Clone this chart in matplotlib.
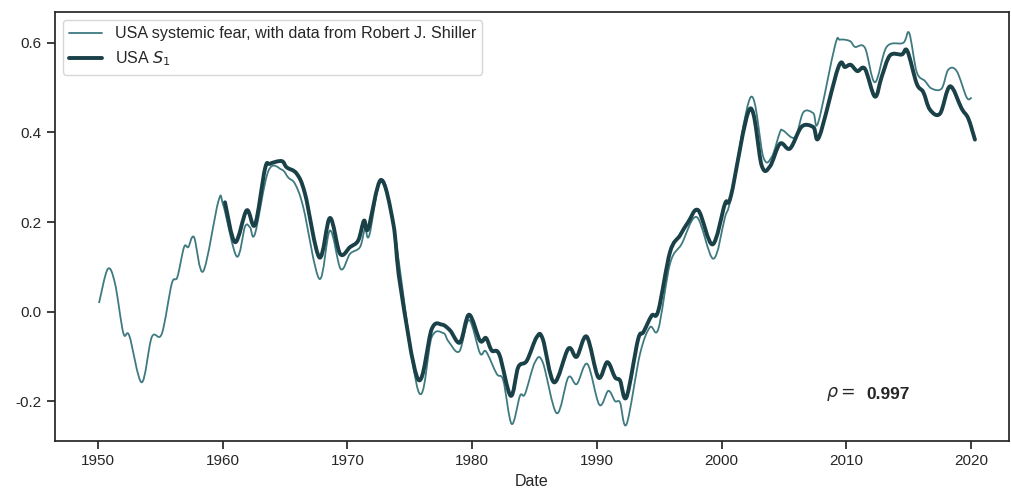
import numpy as np
import matplotlib
matplotlib.use("Agg")
import matplotlib.pyplot as plt
import seaborn as sns
from matplotlib.path import Path
from matplotlib.patches import PathPatch

# USA systemic fear (Shiller data)
fear_years = [1950.08, 1950.78, 1951.36, 1952.03, 1952.51, 1953.50, 1954.31, 1955.11, 1955.91, 1956.36,
              1956.90, 1957.24, 1957.70, 1958.44, 1959.65, 1960.05, 1961.12, 1961.79, 1962.19, 1962.59,
              1963.66, 1964.73, 1965.26, 1965.80, 1966.46, 1967.75, 1968.60, 1969.46, 1970.21, 1971.01,
              1971.41, 1971.75, 1972.69, 1973.68, 1975.68, 1976.76, 1977.69, 1978.09, 1978.97, 1979.75,
              1980.63, 1981.11, 1981.97, 1982.50, 1983.17, 1983.84, 1984.24, 1985.04, 1985.66, 1986.78,
              1987.71, 1988.39, 1989.24, 1990.20, 1990.92, 1991.46, 1991.86, 1992.39, 1993.46, 1994.26,
              1994.93, 1995.87, 1996.80, 1998.01, 1999.34, 2000.28, 2000.76, 2002.34, 2003.35, 2004.02,
              2004.69, 2004.95, 2005.89, 2006.56, 2007.36, 2007.76, 2009.10, 2009.50, 2010.30, 2010.70,
              2011.50, 2012.30, 2013.24, 2014.57, 2015.05, 2015.65, 2016.31, 2016.85, 2017.65, 2018.18,
              2018.86, 2019.66, 2020.06]
fear_vals = [0.019, 0.095, 0.063, -0.048, -0.054, -0.158, -0.057, -0.050, 0.062, 0.077,
             0.144, 0.144, 0.166, 0.090, 0.246, 0.237, 0.123, 0.190, 0.188, 0.174,
             0.314, 0.317, 0.299, 0.285, 0.233, 0.073, 0.181, 0.095, 0.129, 0.144,
             0.185, 0.170, 0.294, 0.196, -0.177, -0.057, -0.048, -0.066, -0.089, -0.019,
             -0.093, -0.089, -0.139, -0.154, -0.251, -0.188, -0.184, -0.113, -0.113, -0.227,
             -0.147, -0.162, -0.117, -0.208, -0.177, -0.200, -0.203, -0.251, -0.095, -0.035,
             -0.039, 0.107, 0.151, 0.211, 0.118, 0.211, 0.255, 0.479, 0.345, 0.345,
             0.401, 0.404, 0.389, 0.445, 0.443, 0.423, 0.594, 0.607, 0.604, 0.591,
             0.589, 0.512, 0.591, 0.600, 0.622, 0.535, 0.515, 0.498, 0.498, 0.540,
             0.537, 0.478, 0.478]

# USA S1
s1_years = [1960.18, 1960.99, 1961.92, 1962.59, 1963.39, 1963.79, 1964.73, 1965.13, 1965.93, 1966.60,
            1967.75, 1968.60, 1969.41, 1970.21, 1970.87, 1971.33, 1971.67, 1972.69, 1973.68, 1974.22,
            1975.68, 1976.76, 1977.56, 1978.23, 1979.03, 1979.75, 1980.63, 1981.11, 1981.57, 1982.18,
            1983.09, 1983.70, 1984.38, 1985.18, 1985.66, 1986.57, 1987.71, 1988.38, 1989.19, 1990.12,
            1990.84, 1991.46, 1991.86, 1992.38, 1993.30, 1993.73, 1994.40, 1994.93, 1995.87, 1996.67,
            1997.33, 1998.14, 1999.28, 2000.28, 2000.76, 2002.28, 2003.22, 2003.88, 2004.69, 2005.49,
            2006.43, 2007.36, 2007.84, 2009.36, 2009.90, 2010.36, 2010.89, 2011.50, 2012.30, 2012.84,
            2013.51, 2014.45, 2014.90, 2015.65, 2016.18, 2016.71, 2017.52, 2018.32, 2019.26, 2019.79,
            2020.32]
s1_vals = [0.244, 0.155, 0.226, 0.194, 0.319, 0.330, 0.336, 0.322, 0.308, 0.263,
           0.121, 0.209, 0.129, 0.144, 0.159, 0.203, 0.185, 0.294, 0.196, 0.062,
           -0.152, -0.039, -0.029, -0.042, -0.069, -0.007, -0.065, -0.059, -0.087, -0.096,
           -0.188, -0.124, -0.110, -0.057, -0.061, -0.158, -0.083, -0.101, -0.056, -0.147,
           -0.113, -0.147, -0.154, -0.191, -0.063, -0.046, -0.009, 0.002, 0.133, 0.170,
           0.200, 0.226, 0.150, 0.241, 0.259, 0.453, 0.326, 0.324, 0.375, 0.364,
           0.413, 0.412, 0.391, 0.545, 0.546, 0.551, 0.537, 0.542, 0.480, 0.524,
           0.572, 0.574, 0.582, 0.509, 0.490, 0.451, 0.442, 0.503, 0.453, 0.431,
           0.384]

rho = 0.997

fear_color = '#3f7a80'
s1_color = '#1a4048'


def smooth_path(xs, ys):
    # bezier path through the points (catmull-rom style handles), only for a softer stroke
    p = np.column_stack([xs, ys])
    verts = [p[0]]
    codes = [Path.MOVETO]
    for i in range(len(p) - 1):
        p0 = p[max(i - 1, 0)]
        p1 = p[i]
        p2 = p[i + 1]
        p3 = p[min(i + 2, len(p) - 1)]
        c1 = p1 + (p2 - p0) / 6.0
        c2 = p2 - (p3 - p1) / 6.0
        verts += [c1, c2, p2]
        codes += [Path.CURVE4] * 3
    return Path(verts, codes)


sns.set_style("ticks")
plt.rcParams['font.family'] = ['Liberation Sans', 'DejaVu Sans']
plt.rcParams['axes.unicode_minus'] = False
plt.rcParams['axes.linewidth'] = 1.25
plt.rcParams['axes.edgecolor'] = '#262626'

fig, ax = plt.subplots(figsize=(10.11, 4.93), dpi=100)
fig.subplots_adjust(left=0.0544, right=0.998, top=0.9757, bottom=0.1055)

ax.add_patch(PathPatch(smooth_path(fear_years, fear_vals), fill=False,
                       edgecolor=fear_color, lw=1.3, joinstyle='round'))
ax.add_patch(PathPatch(smooth_path(s1_years, s1_vals), fill=False,
                       edgecolor=s1_color, lw=2.8, joinstyle='round', capstyle='round'))

# legend handles
ax.plot([], [], color=fear_color, lw=1.3, label='USA systemic fear, with data from Robert J. Shiller')
ax.plot([], [], color=s1_color, lw=2.8, label='USA $S_1$')

ax.text(2008.4, -0.185, r'$\rho=$', fontsize=12.5, va='center')
ax.text(2011.6, -0.185, f'{rho}', fontsize=12.5, fontweight='bold', va='center')

ax.set_xlim(1946.55, 2023.05)
ax.set_ylim(-0.289, 0.669)
ax.set_xticks(np.arange(1950, 2021, 10))
ax.set_yticks([-0.2, 0.0, 0.2, 0.4, 0.6])
ax.tick_params(labelsize=11, direction='out', length=6, width=1.25, color='#262626')
ax.set_xlabel('Date', fontsize=11.5)

ax.legend(loc='upper left', fontsize=11.6, frameon=True)

fig.savefig('out.png', dpi=100)
